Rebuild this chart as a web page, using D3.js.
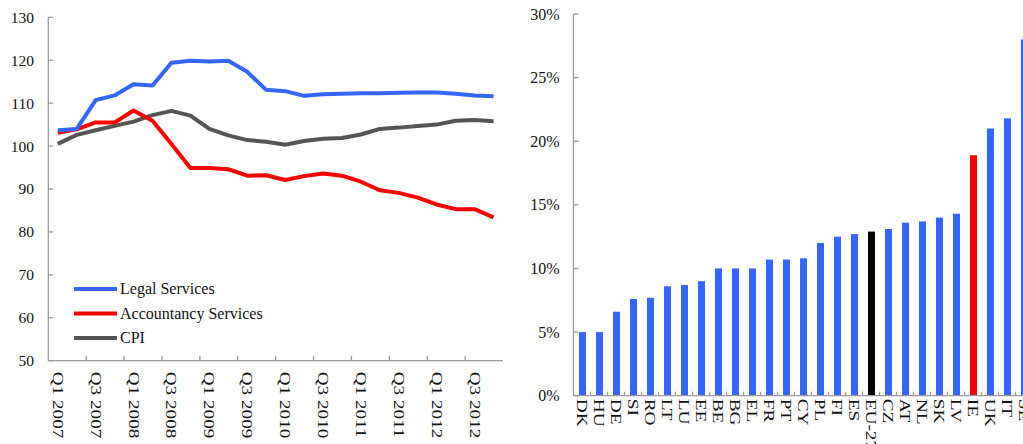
<!DOCTYPE html>
<html>
<head>
<meta charset="utf-8">
<script src="https://cdn.jsdelivr.net/npm/d3@7"></script>
<style>
html, body { margin: 0; padding: 0; background: #fff; overflow: hidden; }
svg { display: block; font-family: "Liberation Serif", "Times New Roman", serif; }
</style>
</head>
<body>
<svg id="chart" width="1023" height="444"></svg>
<script>
// ---------- Left chart data ----------
const quarters = [
  "Q1 2007","Q2 2007","Q3 2007","Q4 2007",
  "Q1 2008","Q2 2008","Q3 2008","Q4 2008",
  "Q1 2009","Q2 2009","Q3 2009","Q4 2009",
  "Q1 2010","Q2 2010","Q3 2010","Q4 2010",
  "Q1 2011","Q2 2011","Q3 2011","Q4 2011",
  "Q1 2012","Q2 2012","Q3 2012","Q4 2012"
];
const quarterTickLabels = ["Q1 2007","Q3 2007","Q1 2008","Q3 2008","Q1 2009","Q3 2009",
  "Q1 2010","Q3 2010","Q1 2011","Q3 2011","Q1 2012","Q3 2012"];
const legalServices = [103.7,104.0,110.7,111.8,114.4,114.1,119.4,119.9,119.7,119.9,117.3,113.1,
  112.8,111.7,112.1,112.2,112.3,112.3,112.4,112.5,112.5,112.2,111.8,111.6];
const accountancyServices = [103.1,103.9,105.5,105.5,108.3,105.9,100.5,94.9,94.9,94.6,93.1,93.2,
  92.1,93.0,93.6,93.1,91.7,89.7,89.1,88.0,86.4,85.3,85.3,83.4];
const cpi = [100.5,102.6,103.7,104.7,105.7,107.2,108.2,107.1,104.0,102.5,101.4,101.0,
  100.3,101.2,101.7,101.9,102.7,104.0,104.3,104.7,105.0,105.9,106.1,105.8];
const leftTicks = [50,60,70,80,90,100,110,120,130];
const seriesNames = ["Legal Services","Accountancy Services","CPI"];

// ---------- Right chart data ----------
const countries = ["DK","HU","DE","SI","RO","LT","LU","EE","BE","BG","EL","FR","PT","CY",
  "PL","FI","ES","EU-27","CZ","AT","NL","SK","LV","IE","UK","IT","SE"];
const shares = [5.0,5.0,6.6,7.6,7.7,8.6,8.7,9.0,10.0,10.0,10.0,10.7,10.7,10.8,
  12.0,12.5,12.7,12.9,13.1,13.6,13.7,14.0,14.3,18.9,21.0,21.8,28.0];
const rightTicks = [0,5,10,15,20,25,30];

const svg = d3.select("#chart");
const axisColor = "#9a9a9a";
const colors = { legal: "#3366ff", acc: "#ff0000", cpi: "#555555" };

// ================= LEFT CHART =================
const L = { x0: 48.3, x1: 503, yTop: 17.3, yBot: 360.7 };
const xL = d3.scaleBand().domain(quarters).range([L.x0, L.x1]).paddingInner(0).paddingOuter(0);
const yL = d3.scaleLinear().domain([50,130]).range([L.yBot, L.yTop]);
const gL = svg.append("g");

// y axis
gL.append("line").attr("x1", L.x0).attr("x2", L.x0).attr("y1", L.yTop).attr("y2", L.yBot)
  .attr("stroke", axisColor).attr("stroke-width", 1.3);
gL.selectAll(".ytickL").data(leftTicks).enter().append("line")
  .attr("x1", L.x0).attr("x2", L.x0 + 5)
  .attr("y1", d => yL(d)).attr("y2", d => yL(d))
  .attr("stroke", axisColor).attr("stroke-width", 1.3);
gL.selectAll(".ylabL").data(leftTicks).enter().append("text")
  .attr("x", 34).attr("y", d => yL(d)).attr("dy", "0.35em")
  .attr("text-anchor", "end").attr("font-size", 15.5).attr("fill", "#111")
  .text(d => d);

// x axis
gL.append("line").attr("x1", L.x0).attr("x2", L.x1).attr("y1", L.yBot).attr("y2", L.yBot)
  .attr("stroke", axisColor).attr("stroke-width", 1.3);
const boundaryIdx = d3.range(2, quarters.length, 2);
gL.selectAll(".xtickL").data(boundaryIdx).enter().append("line")
  .attr("x1", i => xL(quarters[i])).attr("x2", i => xL(quarters[i]))
  .attr("y1", L.yBot).attr("y2", L.yBot - 5)
  .attr("stroke", axisColor).attr("stroke-width", 1.3);
gL.selectAll(".xlabL").data(quarterTickLabels).enter().append("text")
  .attr("transform", d => `translate(${xL(d) + xL.bandwidth()/2},${L.yBot + 11}) rotate(90) scale(1.28,1)`)
  .attr("dy", "0.33em").attr("font-size", 15).attr("fill", "#111")
  .text(d => d);

// lines
const lineGen = d3.line().x((d,i) => xL(quarters[i]) + xL.bandwidth()/2).y(d => yL(d));
const seriesList = [
  { name: seriesNames[0], values: legalServices, color: colors.legal },
  { name: seriesNames[1], values: accountancyServices, color: colors.acc },
  { name: seriesNames[2], values: cpi, color: colors.cpi }
];
// draw order: CPI, Accountancy, Legal on top
[seriesList[2], seriesList[1], seriesList[0]].forEach(s => {
  gL.append("path").datum(s.values).attr("d", lineGen)
    .attr("fill", "none").attr("stroke", s.color).attr("stroke-width", 4)
    .attr("stroke-linejoin", "round");
});

// legend
const legY = [289, 313.5, 338];
seriesList.forEach((s, i) => {
  gL.append("line").attr("x1", 74).attr("x2", 117).attr("y1", legY[i]).attr("y2", legY[i])
    .attr("stroke", s.color).attr("stroke-width", 4);
  gL.append("text").attr("x", 120).attr("y", legY[i]).attr("dy", "0.33em")
    .attr("font-size", 16).attr("fill", "#111").text(s.name);
});

// ================= RIGHT CHART =================
const R = { x0: 573.5, band: 17, yTop: 14, yBot: 395.7 };
const xR = d3.scaleBand().domain(countries).range([R.x0, R.x0 + R.band * countries.length]).paddingInner(0).paddingOuter(0);
const yR = d3.scaleLinear().domain([0,30]).range([R.yBot, R.yTop]);
const gR = svg.append("g");

const barW = 7;
gR.selectAll(".bar").data(countries).enter().append("rect")
  .attr("x", d => xR(d) + xR.bandwidth()/2 - barW/2 + 0.5)
  .attr("width", barW)
  .attr("y", (d,i) => yR(shares[i]))
  .attr("height", (d,i) => yR(0) - yR(shares[i]))
  .attr("fill", d => d === "EU-27" ? "#000000" : (d === "IE" ? "#ff0000" : "#3366ff"));

// y axis
gR.append("line").attr("x1", R.x0).attr("x2", R.x0).attr("y1", R.yTop).attr("y2", R.yBot)
  .attr("stroke", axisColor).attr("stroke-width", 1.3);
gR.selectAll(".ytickR").data(rightTicks).enter().append("line")
  .attr("x1", R.x0).attr("x2", R.x0 + 5)
  .attr("y1", d => yR(d)).attr("y2", d => yR(d))
  .attr("stroke", axisColor).attr("stroke-width", 1.3);
gR.selectAll(".ylabR").data(rightTicks).enter().append("text")
  .attr("x", 559.5).attr("y", d => yR(d)).attr("dy", "0.35em")
  .attr("text-anchor", "end").attr("font-size", 16).attr("fill", "#111")
  .text(d => d + "%");

// x axis
gR.append("line").attr("x1", R.x0).attr("x2", R.x0 + R.band * countries.length)
  .attr("y1", R.yBot).attr("y2", R.yBot)
  .attr("stroke", axisColor).attr("stroke-width", 1.3);
gR.selectAll(".xtickR").data(countries.slice(1)).enter().append("line")
  .attr("x1", d => xR(d)).attr("x2", d => xR(d))
  .attr("y1", R.yBot).attr("y2", R.yBot - 4)
  .attr("stroke", axisColor).attr("stroke-width", 1.3);
gR.selectAll(".xlabR").data(countries).enter().append("text")
  .attr("transform", d => `translate(${xR(d) + xR.bandwidth()/2},${R.yBot + 3}) rotate(90) scale(1.38,1)`)
  .attr("dy", "0.33em").attr("font-size", 14).attr("fill", "#111")
  .text(d => d);
</script>
</body>
</html>
